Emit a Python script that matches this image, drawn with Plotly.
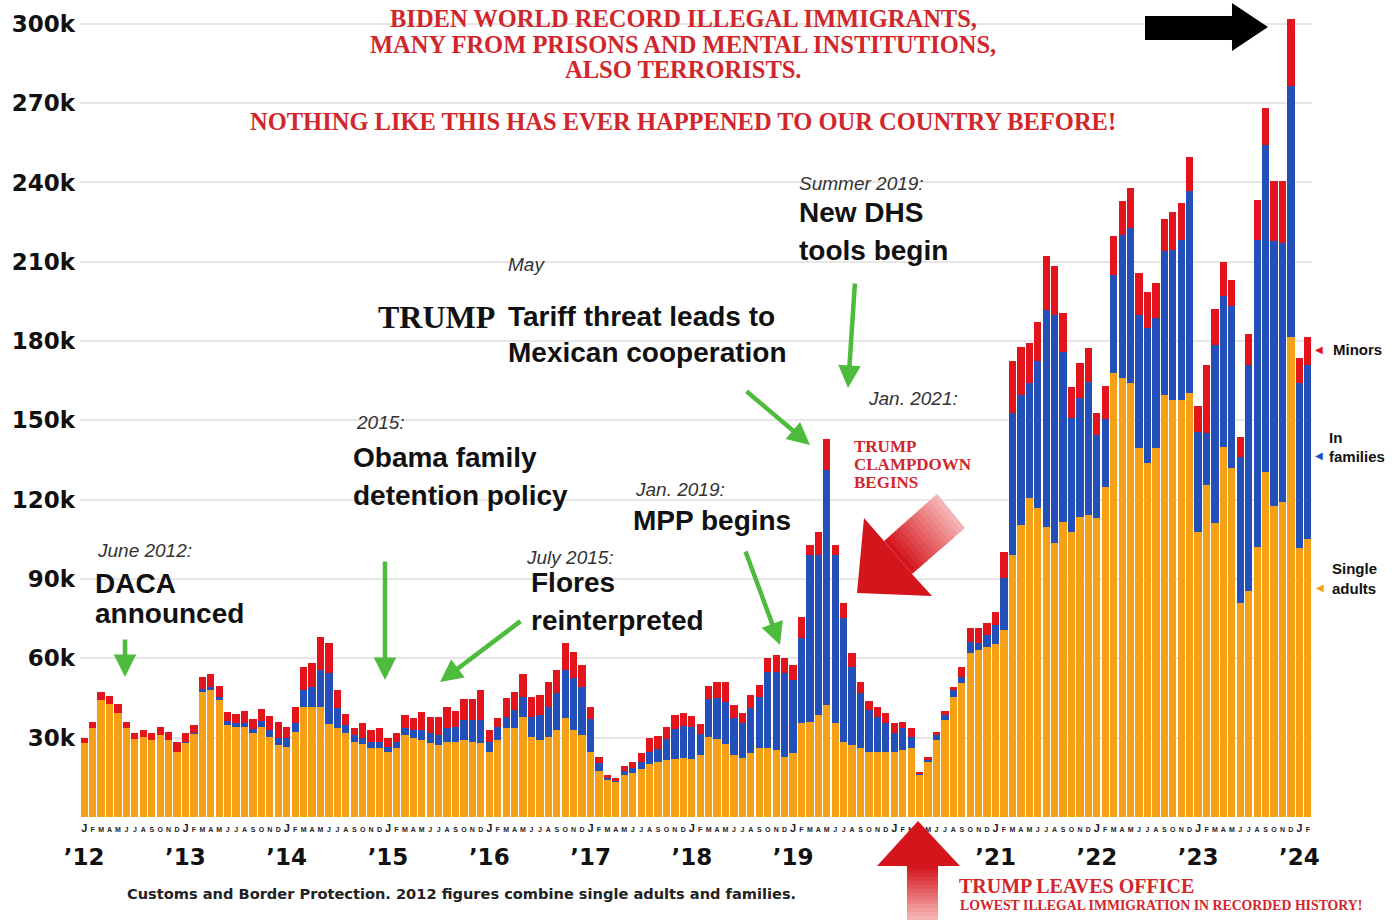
import plotly.graph_objects as go

# ---------------- data (thousands of apprehensions per month, Jan 2012 - Feb 2024) ----------------
month_letters = ["J", "F", "M", "A", "M", "J", "J", "A", "S", "O", "N", "D"]

single_adults = [
    28.1, 33.5, 44.3, 42.7, 39.5, 33.5, 29.4, 30.1, 29.1, 31.0, 29.1, 24.7,
    28.1, 31.4, 47.4, 48.0, 44.3, 34.8, 34.2, 34.2, 31.6, 34.2, 30.4, 27.2,
    26.6, 32.3, 41.7, 41.7, 41.7, 35.1, 33.5, 31.7, 28.5, 27.6, 26.0, 26.0,
    24.7, 26.0, 31.0, 29.8, 29.1, 28.1, 27.2, 28.5, 28.5, 29.1, 28.5, 27.9,
    24.7, 29.1, 33.5, 33.5, 38.0, 30.4, 29.1, 30.4, 32.9, 37.3, 32.9, 31.0,
    24.7, 17.5, 14.2, 13.5, 15.9, 16.5, 18.1, 20.0, 20.9, 21.6, 21.9, 22.5,
    21.9, 23.5, 30.1, 29.5, 27.8, 23.5, 22.2, 24.1, 26.0, 26.0, 25.3, 22.8,
    24.1, 35.4, 36.1, 38.6, 42.4, 35.4, 28.5, 27.2, 26.0, 24.7, 24.7, 24.7,
    24.7, 25.3, 26.0, 15.9, 20.9, 29.1, 36.7, 45.5, 50.6, 61.9, 63.2, 64.4,
    65.5, 70.7, 99.1, 110.5, 120.6, 116.8, 109.8, 103.5, 111.7, 107.9, 113.6, 114.3,
    113.0, 125.0, 167.8, 166.0, 164.1, 139.5, 133.8, 139.5, 159.6, 157.8, 157.8, 160.3,
    107.8, 125.6, 111.2, 140.1, 131.9, 80.8, 85.5, 102.0, 130.6, 117.7, 119.0, 181.5,
    101.6, 105.2,
]

in_families = [
    0, 0, 0, 0, 0, 0, 0, 0, 0, 0, 0, 0,
    0.3, 0.3, 1.0, 1.0, 1.0, 1.5, 1.5, 1.5, 1.5, 2.0, 2.5, 2.8,
    3.2, 3.1, 6.3, 7.6, 13.9, 19.3, 7.6, 3.1, 2.5, 2.2, 2.5, 2.5,
    1.9, 2.5, 2.8, 3.1, 3.8, 3.6, 3.8, 5.0, 5.7, 7.6, 8.2, 8.8,
    3.8, 5.1, 4.5, 7.0, 7.5, 7.6, 9.5, 11.3, 13.9, 18.3, 19.6, 18.3,
    12.3, 2.8, 0.7, 0.4, 1.4, 1.9, 2.8, 4.7, 4.8, 7.9, 11.3, 12.0,
    12.3, 7.8, 14.5, 15.4, 15.8, 13.8, 13.2, 17.0, 19.5, 29.0, 29.7, 31.6,
    27.7, 32.2, 63.0, 60.5, 88.9, 63.7, 46.7, 29.7, 20.8, 15.8, 13.3, 10.7,
    7.0, 8.2, 4.4, 0.6, 0.7, 1.9, 1.9, 2.5, 2.5, 4.4, 2.8, 4.5,
    7.0, 19.6, 53.6, 49.1, 43.7, 55.5, 82.0, 86.4, 64.3, 42.9, 44.8, 50.4,
    31.5, 25.4, 37.2, 54.2, 58.6, 50.4, 51.1, 49.2, 54.3, 56.7, 60.5, 76.3,
    37.9, 19.5, 67.2, 57.1, 61.2, 55.2, 85.5, 116.3, 123.6, 100.0, 98.0, 95.0,
    62.5, 65.8,
]

minors = [
    1.9, 2.6, 3.1, 3.1, 3.1, 2.6, 2.5, 2.7, 2.6, 2.9, 3.2, 3.8,
    3.3, 3.1, 4.7, 5.0, 4.3, 3.5, 3.3, 4.5, 3.8, 4.5, 5.3, 5.8,
    4.4, 6.3, 8.9, 8.8, 12.4, 11.3, 6.9, 4.2, 2.5, 5.6, 4.4, 5.0,
    3.2, 3.2, 4.8, 4.7, 6.9, 6.3, 7.0, 8.0, 6.0, 7.8, 7.8, 11.3,
    4.4, 3.1, 6.9, 6.9, 8.6, 7.5, 7.6, 9.2, 8.8, 10.1, 10.0, 8.2,
    4.7, 2.5, 0.8, 0.7, 2.0, 2.5, 3.2, 5.3, 5.0, 4.7, 5.4, 5.0,
    4.1, 4.0, 4.9, 6.1, 7.4, 5.1, 4.0, 5.1, 4.4, 5.0, 6.3, 5.6,
    5.7, 7.9, 3.8, 8.8, 11.6, 3.8, 5.9, 5.0, 4.4, 3.5, 3.7, 4.1,
    3.7, 2.6, 3.1, 0.7, 1.2, 1.3, 1.6, 1.3, 3.8, 5.1, 5.4, 4.4,
    5.0, 10.1, 19.6, 18.1, 14.9, 15.1, 20.2, 18.5, 14.5, 12.0, 13.5, 12.6,
    8.2, 12.7, 14.8, 12.6, 15.1, 15.8, 13.8, 13.4, 12.2, 14.5, 14.1, 13.0,
    9.8, 25.9, 13.7, 12.9, 10.1, 7.9, 11.5, 15.1, 13.8, 23.0, 23.7, 25.2,
    9.4, 10.7,
]

year_tick_months = [0, 12, 24, 36, 48, 60, 72, 84, 108, 120, 132, 144]
year_labels = ["’12", "’13", "’14", "’15", "’16", "’17", "’18", "’19", "’21", "’22", "’23", "’24"]

y_tick_values = [30, 60, 90, 120, 150, 180, 210, 240, 270, 300]
y_tick_labels = ["30k", "60k", "90k", "120k", "150k", "180k", "210k", "240k", "270k", "300k"]

# ---------------- styling ----------------
ORANGE = "#F6A115"
BLUE = "#2350B8"
RED = "#E3141C"
GREEN = "#4DBB3C"
TRED = "#D0262C"
SANS = "Liberation Sans"
SERIF = "Liberation Serif"
WIDE = "DejaVu Sans"

W, H = 1398, 920
ML, MR, MT, MB = 80, 86, 3, 103
PW, PH = W - ML - MR, H - MT - MB


def px(x):
    return (x - ML) / PW


def py(y):
    return (H - MB - y) / PH


n = len(single_adults)
xs = list(range(n))
month_ticktext = []
for i in range(n):
    if i % 12 == 0:
        month_ticktext.append("<span style='font-size:11px'><b>J</b></span>")
    else:
        month_ticktext.append(month_letters[i % 12])

fig = go.Figure()
fig.add_bar(x=xs, y=single_adults, marker=dict(color=ORANGE, line=dict(width=0)), name="Single adults",
            hoverinfo="skip")
fig.add_bar(x=xs, y=in_families, marker=dict(color=BLUE, line=dict(width=0)), name="In families",
            hoverinfo="skip")
fig.add_bar(x=xs, y=minors, marker=dict(color=RED, line=dict(width=0)), name="Minors", hoverinfo="skip")
# invisible carrier so the year axis is drawn
fig.add_scatter(x=[xs[0]], y=[0], xaxis="x2", yaxis="y", mode="markers",
                marker=dict(opacity=0, size=1), hoverinfo="skip", showlegend=False)

fig.update_layout(
    width=W, height=H,
    margin=dict(l=ML, r=MR, t=MT, b=MB),
    barmode="stack", bargap=0.14,
    plot_bgcolor="white", paper_bgcolor="white",
    showlegend=False,
    xaxis=dict(
        range=[-0.5, n - 0.5], tickmode="array", tickvals=xs, ticktext=month_ticktext,
        tickangle=0, tickfont=dict(family=SANS, size=7, color="#222", weight="bold"),
        showgrid=False, zeroline=False, showline=False, ticks="", ticklabelstandoff=7,
    ),
    xaxis2=dict(
        overlaying="x", anchor="y", side="bottom",
        range=[-0.5, n - 0.5], tickmode="array", tickvals=year_tick_months, ticktext=year_labels,
        tickangle=0, tickfont=dict(family=WIDE, size=23, color="#111", weight="bold"),
        showgrid=False, zeroline=False, showline=False, ticks="", ticklabelstandoff=24,
    ),
    yaxis=dict(
        range=[0, PH / 2.644], tickmode="array", tickvals=y_tick_values, ticktext=y_tick_labels,
        tickfont=dict(family=WIDE, size=23, color="#111", weight="bold"),
        showgrid=True, gridcolor="#E6E6E6", gridwidth=1.5, zeroline=False, showline=False,
        ticks="", ticklabelstandoff=4,
    ),
)

ann = []


def txt(s, x, y, size, family=SANS, color="#111", weight="bold", style="normal", xanchor="left"):
    ann.append(dict(
        text=s, x=px(x), y=py(y), xref="paper", yref="paper", xanchor=xanchor, yanchor="middle",
        showarrow=False, font=dict(family=family, size=size, color=color, weight=weight, style=style),
    ))


def arrow(tx, ty, hx, hy):
    ann.append(dict(
        text="", x=px(hx), y=py(hy), xref="paper", yref="paper", ax=tx - hx, ay=ty - hy,
        showarrow=True, arrowhead=2, arrowsize=1.0, arrowwidth=4.5, arrowcolor=GREEN,
        standoff=0, startstandoff=0,
    ))


# title
txt("BIDEN WORLD RECORD ILLEGAL IMMIGRANTS,", 683, 18, 24.5, SERIF, TRED, xanchor="center")
txt("MANY FROM PRISONS AND MENTAL INSTITUTIONS,", 683, 44, 24.5, SERIF, TRED, xanchor="center")
txt("ALSO TERRORISTS.", 683, 70, 24.5, SERIF, TRED, xanchor="center")
txt("NOTHING LIKE THIS HAS EVER HAPPENED TO OUR COUNTRY BEFORE!", 683, 122, 24.5, SERIF, TRED,
    xanchor="center")

# event labels
ITAL = dict(color="#333", weight="normal", style="italic")
txt("June 2012:", 95, 550, 19, **ITAL)
txt("DACA", 93, 583, 28)
txt("announced", 93, 613, 28)
txt("2015:", 354, 423, 19, **ITAL)
txt("Obama family", 351, 457, 28)
txt("detention policy", 351, 496, 28)
txt("July 2015:", 524, 557, 19, **ITAL)
txt("Flores", 529, 582, 28)
txt("reinterpreted", 529, 620, 28)
txt("Jan. 2019:", 633, 489, 19, **ITAL)
txt("MPP begins", 631, 520, 28)
txt("May", 506, 264, 19, **ITAL)
txt("TRUMP", 376, 317, 32, SERIF, "#111")
txt("Tariff threat leads to", 506, 316, 28)
txt("Mexican cooperation", 506, 353, 28)
txt("Summer 2019:", 797, 184, 19, **ITAL)
txt("New DHS", 797, 213, 28)
txt("tools begin", 797, 251, 28)
txt("Jan. 2021:", 866, 398, 19, **ITAL)
txt("TRUMP", 852, 446, 17, SERIF, TRED)
txt("CLAMPDOWN", 852, 464, 17, SERIF, TRED)
txt("BEGINS", 852, 482, 17, SERIF, TRED)
txt("TRUMP LEAVES OFFICE", 957, 886, 20, SERIF, TRED)
txt("LOWEST ILLEGAL IMMIGRATION IN RECORDED HISTORY!", 958, 905, 13.8, SERIF, TRED)
txt("Customs and Border Protection. 2012 figures combine single adults and families.", 125, 893, 14.6,
    WIDE, "#222")

# legend at right
txt("◀", 1313, 350, 10, WIDE, RED)
txt("Minors", 1331, 350, 15)
txt("In", 1327, 437, 15)
txt("◀", 1313, 455, 10, WIDE, BLUE)
txt("families", 1327, 456, 15)
txt("Single", 1330, 569, 15)
txt("◀", 1314, 587, 10, WIDE, ORANGE)
txt("adults", 1330, 588, 15)

# green arrows
arrow(125, 638, 125, 677)
arrow(385, 560, 385, 680)
arrow(522, 620, 440, 682)
arrow(745, 550, 780, 645)
arrow(745, 390, 810, 445)
arrow(855, 282, 848, 388)

fig.update_layout(annotations=ann)


def path(points):
    return "M" + " L".join(f"{px(x):.5f},{py(y):.5f}" for x, y in points) + " Z"


def lerp(a, b, t):
    return (a[0] + (b[0] - a[0]) * t, a[1] + (b[1] - a[1]) * t)


def mix(c0, c1, t):
    a = [int(c0[i:i + 2], 16) for i in (1, 3, 5)]
    b = [int(c1[i:i + 2], 16) for i in (1, 3, 5)]
    return "#" + "".join(f"{round(a[i] + (b[i] - a[i]) * t):02X}" for i in range(3))


DARK, LIGHT = "#D4161C", "#F6B3B3"
NB = 14

shapes = []
# black arrow (top right)
shapes.append(dict(type="path", xref="paper", yref="paper", layer="above",
                   path=path([(1145, 16), (1232, 16), (1232, 3), (1268, 27), (1232, 51), (1232, 40), (1145, 40)]),
                   fillcolor="#000", line=dict(width=0)))

# red clampdown arrow: head + shaft fading toward the tail
shapes.append(dict(type="path", xref="paper", yref="paper", layer="above",
                   path=path([(857, 593), (864, 518), (884, 541), (912, 574), (932, 596)]),
                   fillcolor=DARK, line=dict(width=0)))
shaft_a0, shaft_b0 = (884, 541), (912, 574)
shaft_a1, shaft_b1 = (937, 494), (965, 528)
for k in range(NB):
    t0, t1 = k / NB, min(1.0, (k + 1) / NB + 0.01)
    shapes.append(dict(type="path", xref="paper", yref="paper", layer="above",
                       path=path([lerp(shaft_a0, shaft_a1, t0), lerp(shaft_a0, shaft_a1, t1),
                                  lerp(shaft_b0, shaft_b1, t1), lerp(shaft_b0, shaft_b1, t0)]),
                       fillcolor=mix(DARK, LIGHT, k / (NB - 1)), line=dict(width=0)))

# red up arrow (bottom): head + shaft fading downward
shapes.append(dict(type="path", xref="paper", yref="paper", layer="above",
                   path=path([(918, 821), (877, 866), (960, 866)]),
                   fillcolor=DARK, line=dict(width=0)))
seg = (920 - 865) / NB
for k in range(NB):
    y0 = 865 + k * seg
    y1 = min(920, y0 + seg + 0.6)
    shapes.append(dict(type="path", xref="paper", yref="paper", layer="above",
                       path=path([(907, y0), (907, y1), (938, y1), (938, y0)]),
                       fillcolor=mix(DARK, LIGHT, k / (NB - 1)), line=dict(width=0)))
fig.update_layout(shapes=shapes)

fig.write_html("out.html", config={"displayModeBar": False},
               post_script="document.body.style.margin='0';document.body.style.overflow='hidden';")
